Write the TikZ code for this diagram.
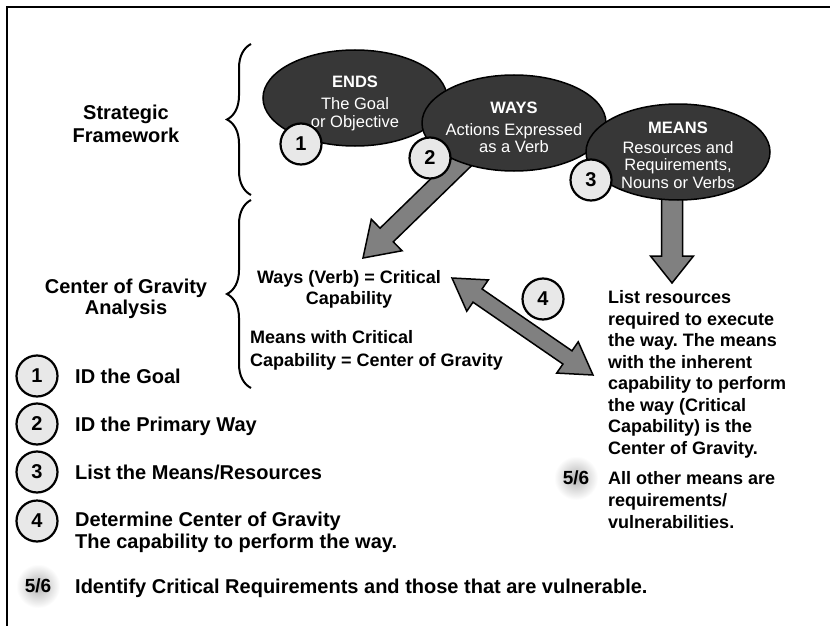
\documentclass[tikz,border=0pt]{standalone}
\usepackage{fontspec}
\setmainfont{Liberation Sans}
\usetikzlibrary{calc,shapes.geometric,decorations.pathreplacing}
\definecolor{arrowgray}{RGB}{128,128,128}
\definecolor{ovalfill}{RGB}{55,55,55}
\definecolor{numfill}{RGB}{232,232,232}
\newcommand{\myblockarrow}[5]{% from, to, shaft half width, head half width, head length
  \coordinate (#1-#2-h) at ($(#2)!#5!(#1)$);
  \draw[blockarr] ($(#1)!#3!90:(#2)$) -- ($(#1-#2-h)!#3!90:(#2)$) -- ($(#1-#2-h)!#4!90:(#2)$) -- (#2)
    -- ($(#1-#2-h)!#4!-90:(#2)$) -- ($(#1-#2-h)!#3!-90:(#2)$) -- ($(#1)!#3!-90:(#2)$) -- cycle;}
\newcommand{\mydoublearrow}[5]{%
  \coordinate (#1-#2-hb) at ($(#2)!#5!(#1)$);
  \coordinate (#1-#2-ha) at ($(#1)!#5!(#2)$);
  \draw[blockarr] (#1) -- ($(#1-#2-ha)!#4!90:(#2)$) -- ($(#1-#2-ha)!#3!90:(#2)$) -- ($(#1-#2-hb)!#3!90:(#2)$)
    -- ($(#1-#2-hb)!#4!90:(#2)$) -- (#2) -- ($(#1-#2-hb)!#4!-90:(#2)$) -- ($(#1-#2-hb)!#3!-90:(#2)$)
    -- ($(#1-#2-ha)!#3!-90:(#2)$) -- ($(#1-#2-ha)!#4!-90:(#2)$) -- cycle;}
\begin{document}
\begin{tikzpicture}[x=1pt,y=-1pt,
  blockarr/.style={draw=black, line width=1.5pt, fill=arrowgray, line join=miter},
  oval/.style={ellipse, draw=black, line width=1.5pt, fill=ovalfill, minimum width=184pt, minimum height=96pt, inner sep=0pt},
  ovaltext/.style={text=white, align=center, inner sep=0pt, font=\fontsize{16.5}{17.5}\selectfont},
  num/.style={circle, draw=black, line width=2.2pt, fill=numfill, minimum size=41pt, inner sep=0pt, font=\fontsize{20}{20}\selectfont\bfseries},
  blob/.style={circle, minimum size=44pt, inner sep=0pt, shading=radial, inner color=black!30, outer color=white, font=\fontsize{19}{19}\selectfont\bfseries},
  legend/.style={anchor=base west, inner sep=0pt, font=\fontsize{20}{22}\selectfont\bfseries},
  bodytext/.style={inner sep=0pt, font=\fontsize{18}{21.5}\selectfont\bfseries},
  bigtext/.style={inner sep=0pt, align=center, font=\fontsize{20}{22}\selectfont\bfseries},
  bracestyle/.style={decorate, decoration={brace, amplitude=24pt}, line width=2pt}]
\useasboundingbox (0,0) rectangle (830,626);
\fill[white] (0,0) rectangle (830,626);
\draw[line width=2.5pt] (7,626) -- (7,7) -- (830,7);

% block arrows (behind the ovals)
\coordinate (wt) at (472,152);
\coordinate (wh) at (363,258);
\myblockarrow{wt}{wh}{9.5pt}{22pt}{33pt}
\coordinate (mt) at (672,175);
\coordinate (mh) at (672,283);
\myblockarrow{mt}{mh}{10.5pt}{21.5pt}{27pt}
\coordinate (da) at (452,278);
\coordinate (db) at (593,375);
\mydoublearrow{da}{db}{8pt}{19pt}{31pt}

% ovals
\node[oval] (ends) at (355,98) {};
\node[oval] (ways) at (514,123) {};
\node[oval] (means) at (678,152) {};
\node[ovaltext] (endst) at (355,103) {\textbf{ENDS}\\[5pt]The Goal\\or Objective};
\node[ovaltext] (wayst) at (514,127.5) {\textbf{WAYS}\\[4.5pt]Actions Expressed\\as a Verb};
\node[ovaltext] (meanst) at (678,155) {\textbf{MEANS}\\[2.5pt]Resources and\\Requirements,\\Nouns or Verbs};

% numbered circles
\node[num] (c1) at (301,144) {1};
\node[num] (c2) at (430,158) {2};
\node[num] (c3) at (591,180) {3};
\node[num] (c4) at (543,299) {4};

% braces and labels
\draw[bracestyle] (251,195) -- (251,44);
\draw[bracestyle] (251,388) -- (251,200);
\node[bigtext, font=\fontsize{20}{23}\selectfont\bfseries] (sf) at (126,123.5) {Strategic\\Framework};
\node[bigtext, font=\fontsize{20}{21.5}\selectfont\bfseries] (cog) at (126,299) {Center of Gravity\\Analysis};

% middle texts
\node[bodytext, align=center, font=\fontsize{18}{21}\selectfont\bfseries] (wv) at (349,289) {Ways (Verb) = Critical\\Capability};
\node[bodytext, align=left, anchor=west, font=\fontsize{18}{23}\selectfont\bfseries] (mc) at (250,350) {Means with Critical\\Capability = Center of Gravity};

% right texts
\node[bodytext, align=left, anchor=north west] (lr) at (608,290.5) {List resources\\required to execute\\the way.\ The means\\with the inherent\\capability to perform\\the way (Critical\\Capability) is the\\Center of Gravity.};
\node[blob] (r56) at (576,478) {5/6};
\node[bodytext, align=left, anchor=north west, font=\fontsize{18}{22}\selectfont\bfseries] (ao) at (608,471.5) {All other means are\\requirements/\\vulnerabilities.};

% legend
\node[num] (l1) at (37,376) {1};
\node[num] (l2) at (37,424) {2};
\node[num] (l3) at (37,472) {3};
\node[num] (l4) at (37,521) {4};
\node[blob] (l56) at (38,586) {5/6};
\node[legend] (t1) at (75,383) {ID the Goal};
\node[legend] (t2) at (75,431) {ID the Primary Way};
\node[legend] (t3) at (75,479) {List the Means/Resources};
\node[legend] (t4a) at (75,526) {Determine Center of Gravity};
\node[legend] (t4b) at (75,548) {The capability to perform the way.};
\node[legend] (t5) at (75,593) {Identify Critical Requirements and those that are vulnerable.};
\end{tikzpicture}
\end{document}
